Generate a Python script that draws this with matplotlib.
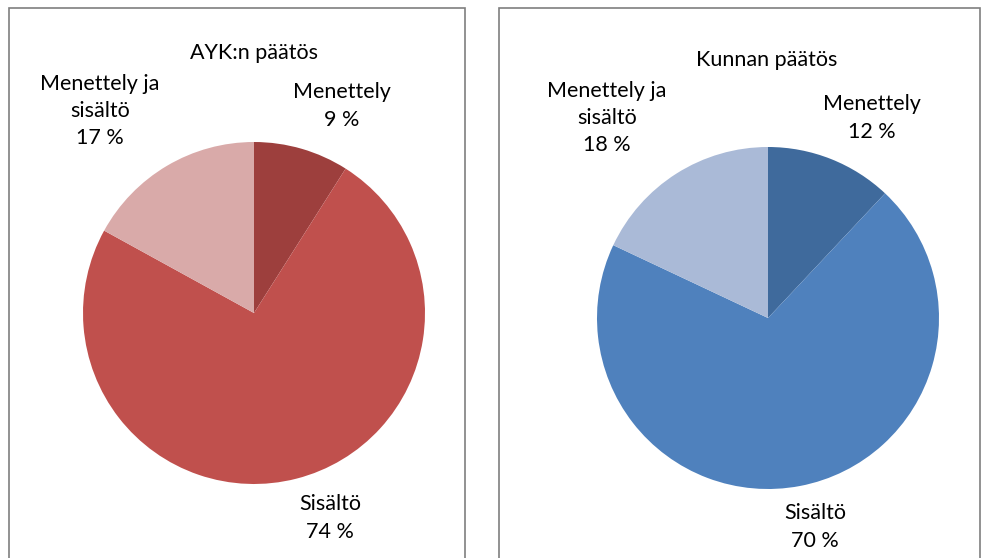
import matplotlib
matplotlib.use("Agg")
import matplotlib.pyplot as plt
from matplotlib.patches import Rectangle

# %% Data
categories = ["Menettely", "Sisältö", "Menettely ja\nsisältö"]
ayk_values = [9, 74, 17]
kunta_values = [12, 70, 18]
titles = ["AYK:n päätös", "Kunnan päätös"]

red_colors = ["#9D3F3D", "#C0504D", "#D9AAA9"]
blue_colors = ["#3F6A9C", "#4F81BD", "#AABAD7"]

W, H = 984, 558
plt.rcParams['font.family'] = ['Lato', 'DejaVu Sans']

fig = plt.figure(figsize=(W / 100, H / 100), dpi=100)


def fx(px):
    return px / W


def fy(py):
    return 1 - py / H


# panel frames
for x0, x1 in [(9, 465), (499, 980)]:
    fig.patches.append(Rectangle((fx(x0), fy(600)), fx(x1) - fx(x0), fy(8) - fy(600),
                                 transform=fig.transFigure, fill=False,
                                 edgecolor="#7f7f7f", lw=1.2))

panels = [
    dict(values=ayk_values, colors=red_colors, title=titles[0], cx=254, cy=313, r=171,
         title_pos=(254, 53), label_pos=[(342, 106), (330, 518), (100, 111)]),
    dict(values=kunta_values, colors=blue_colors, title=titles[1], cx=768, cy=318, r=171,
         title_pos=(767, 60), label_pos=[(872, 118), (815, 527), (607, 118)]),
]

for p in panels:
    ax = fig.add_axes([fx(p["cx"] - p["r"]), fy(p["cy"] + p["r"]),
                       2 * p["r"] / W, 2 * p["r"] / H])
    ax.pie(p["values"], colors=p["colors"], startangle=90, counterclock=False,
           radius=1.0, wedgeprops=dict(linewidth=0))
    ax.set_xlim(-1, 1)
    ax.set_ylim(-1, 1)
    ax.axis("off")
    fig.text(fx(p["title_pos"][0]), fy(p["title_pos"][1]), p["title"],
             ha="center", va="center", fontsize=15.5)
    for cat, val, (lx, ly) in zip(categories, p["values"], p["label_pos"]):
        fig.text(fx(lx), fy(ly), f"{cat}\n{val} %", ha="center", va="center",
                 fontsize=15.5, linespacing=1.45)

fig.savefig("out.png", dpi=100)
